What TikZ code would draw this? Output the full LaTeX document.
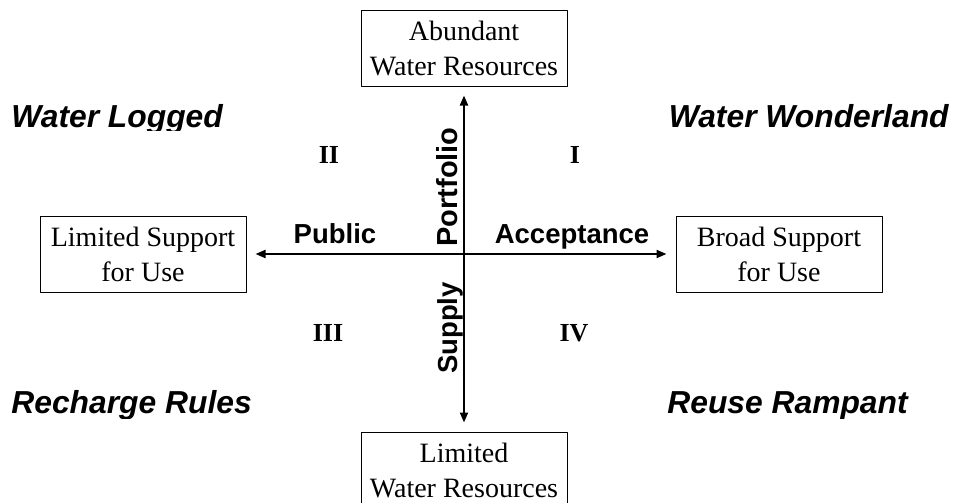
\documentclass[tikz,border=0pt]{standalone}
\usepackage{fontspec}
\setmainfont{Liberation Serif}
\setsansfont{Liberation Sans}
\usetikzlibrary{arrows.meta}
\begin{document}
\begin{tikzpicture}[x=0.5pt,y=-0.5pt,line join=round,>={Triangle[length=5pt,width=4pt]},
	box/.style={draw,line width=0.5pt,minimum width=103pt,minimum height=38pt,inner sep=0pt,align=center,font=\fontsize{14}{17.5}\selectfont},
	axis/.style={line width=1pt,->,shorten >=4.5pt},
	axislabel/.style={anchor=base,inner sep=0pt,font=\fontsize{13.75}{16}\selectfont\sffamily\bfseries},
	quadname/.style={inner sep=0pt,font=\fontsize{15.9}{19}\selectfont\sffamily\bfseries\itshape},
	numeral/.style={font=\fontsize{13}{15}\selectfont\bfseries}]
	\useasboundingbox (0,0) rectangle (953,503);
	\clip (0,0) rectangle (953,503);
	\coordinate (O) at (464,254);
	\node[box] (top) at (464,48) {Abundant\\Water Resources};
	\node[box] (bot) at (464,470) {Limited\\Water Resources};
	\node[box] (lft) at (143,254) {Limited Support\\for Use};
	\node[box] (rgt) at (779,254) {Broad Support\\for Use};
	\foreach \b in {top,bot,lft,rgt}
	\draw[axis] (O)--(\b);
	\node[axislabel] (public) at (335,243) {Public};
	\node[axislabel] (accept) at (572,243) {Acceptance};
	\node[axislabel,rotate=90,font=\fontsize{14.5}{16}\selectfont\sffamily\bfseries] (portf) at (457,187) {Portfolio};
	\node[axislabel,rotate=90] (supply) at (457,328) {Supply};
	\node[numeral] (q1) at (575,155) {I};
	\node[numeral] (q2) at (329,155) {II};
	\node[numeral] (q3) at (328,333) {III};
	\node[numeral] (q4) at (574,333) {IV};
	\begin{scope}
	\clip (0,0) rectangle (953,130) (0,300) rectangle (953,418);
	\node[quadname,anchor=base west] (logged) at (11,127) {Water Logged};
	\node[quadname,anchor=base east] (wonder) at (949,127) {Water Wonderland};
	\node[quadname,anchor=base west] (recharge) at (11,413) {Recharge Rules};
	\node[quadname,anchor=base west] (reuse) at (667,413) {Reuse Rampant};
	\end{scope}
\end{tikzpicture}
\end{document}
